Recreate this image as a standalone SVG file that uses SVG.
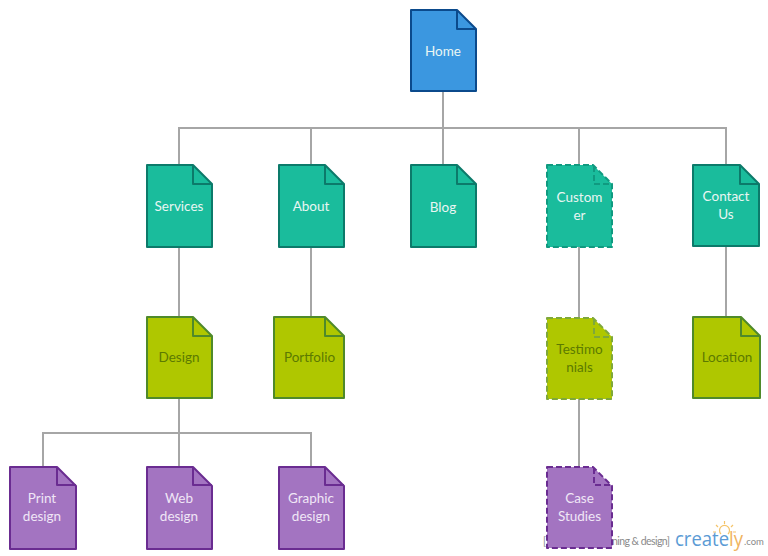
<svg xmlns="http://www.w3.org/2000/svg" width="768" height="556" viewBox="0 0 768 556">
<style>
text{font-family:Lato,"Liberation Sans",sans-serif;font-size:13.500px;text-anchor:middle}
.c{fill:none;stroke:#a6a6a6;stroke-width:2}
.n{stroke-width:2;stroke-linejoin:round}
.blue{fill:#3b97e0;stroke:#0b4a8c}.blue+path{stroke:#0b4a8c}
.teal{fill:#1abc9c;stroke:#0c7a6a}.teal+path{stroke:#0c7a6a}
.lime{fill:#afc700;stroke:#4f8a2a}.lime+path{stroke:#4f8a2a}
.purple{fill:#a374c1;stroke:#6a2c91}.purple+path{stroke:#6a2c91}
.f{fill:none;stroke-width:2;stroke-linejoin:round}
.d{stroke-dasharray:6 3}
.lime.d,.lime.d+path{stroke:#7fa83a}
.teal.d,.teal.d+path{stroke:#109a80}
.w{fill:#e9f6f3}.g{fill:#5c7a00}.p{fill:#f0e6f6}
.wm{font-size:10.500px;fill:#8a8a8a;text-anchor:start}
.logo{font-size:20px;text-anchor:start;font-family:"Open Sans","Liberation Sans",sans-serif}
</style>
<g id="connectors" class="c">
<path d="M443 91V128M179 165V128H726V165M311 165V128M443 128V165M579 128V165"/>
<path d="M179 247V317M311 247V317M579 247V318M726 246V317"/>
<path d="M579 399V467M179 398V433M43 467V433H311V467M179 433V467"/>
</g>
<g id="watermark">
<text class="wm" x="543" y="545">[</text>
<text class="wm" x="612" y="545" textLength="58">ning &amp; design]</text>
<g fill="none" stroke="#f5c469" stroke-width="1.200"><path d="M721 534a5 5 0 1 1 7 0"/><path d="M724.500 524v-3M718 527l-2-2M731 527l2-2M716 532h-3M733 532h3"/></g>
<text class="logo" x="675" y="546" textLength="68" lengthAdjust="spacingAndGlyphs" style="fill:#5b9bd5">create<tspan style="fill:#f0b35e">ly</tspan></text>
<text x="744" y="545" style="font-size:9.500px;fill:#8a8a8a;text-anchor:start">.com</text>
</g>
<g id="home"><path class="n blue" d="M411 10H457L476 29V91H411Z"/><path class="f" d="M457 10V29H476"/><text class="w" x="443" y="56">Home</text></g>
<g id="services"><path class="n teal" d="M147 165H193L212 184V247H147Z"/><path class="f" d="M193 165V184H212"/><text class="w" x="179" y="211">Services</text></g>
<g id="about"><path class="n teal" d="M279 165H325L344 184V247H279Z"/><path class="f" d="M325 165V184H344"/><text class="w" x="311" y="211">About</text></g>
<g id="blog"><path class="n teal" d="M411 165H457L476 184V247H411Z"/><path class="f" d="M457 165V184H476"/><text class="w" x="443" y="212">Blog</text></g>
<g id="customer"><path class="n teal d" d="M547 165H593L612 184V247H547Z"/><path class="f d" d="M594 166V184H612"/><text class="w" x="579.500" y="202">Custom</text><text class="w" x="579.500" y="220">er</text></g>
<g id="contact"><path class="n teal" d="M693 165H740L759 184V246H693Z"/><path class="f" d="M740 165V184H759"/><text class="w" x="726" y="201">Contact</text><text class="w" x="726" y="219">Us</text></g>
<g id="design"><path class="n lime" d="M147 317H193L212 336V398H147Z"/><path class="f" d="M193 317V336H212"/><text class="g" x="179" y="362">Design</text></g>
<g id="portfolio"><path class="n lime" d="M274 317H325L344 336V398H274Z"/><path class="f" d="M325 317V336H344"/><text class="g" x="309.500" y="362">Portfolio</text></g>
<g id="testimonials"><path class="n lime d" d="M547 318H593L612 337V399H547Z"/><path class="f d" d="M594 319V337H612"/><text class="g" x="579.500" y="354">Testimo</text><text class="g" x="579.500" y="372">nials</text></g>
<g id="location"><path class="n lime" d="M693 317H741L760 336V398H693Z"/><path class="f" d="M741 317V336H760"/><text class="g" x="727" y="362">Location</text></g>
<g id="print"><path class="n purple" d="M10 467H57L76 486V549H10Z"/><path class="f" d="M57 467V485H76"/><text class="p" x="42" y="503">Print</text><text class="p" x="42" y="521">design</text></g>
<g id="web"><path class="n purple" d="M147 467H193L212 486V549H147Z"/><path class="f" d="M193 467V485H212"/><text class="p" x="179" y="503">Web</text><text class="p" x="179" y="521">design</text></g>
<g id="graphic"><path class="n purple" d="M279 467H325L344 486V549H279Z"/><path class="f" d="M325 467V485H344"/><text class="p" x="311" y="503">Graphic</text><text class="p" x="311" y="521">design</text></g>
<g id="case"><path class="n purple d" d="M547 467H593L612 486V548H547Z"/><path class="f d" d="M594 468V485H612"/><text class="p" x="579.500" y="503">Case</text><text class="p" x="579.500" y="521">Studies</text></g>
</svg>
